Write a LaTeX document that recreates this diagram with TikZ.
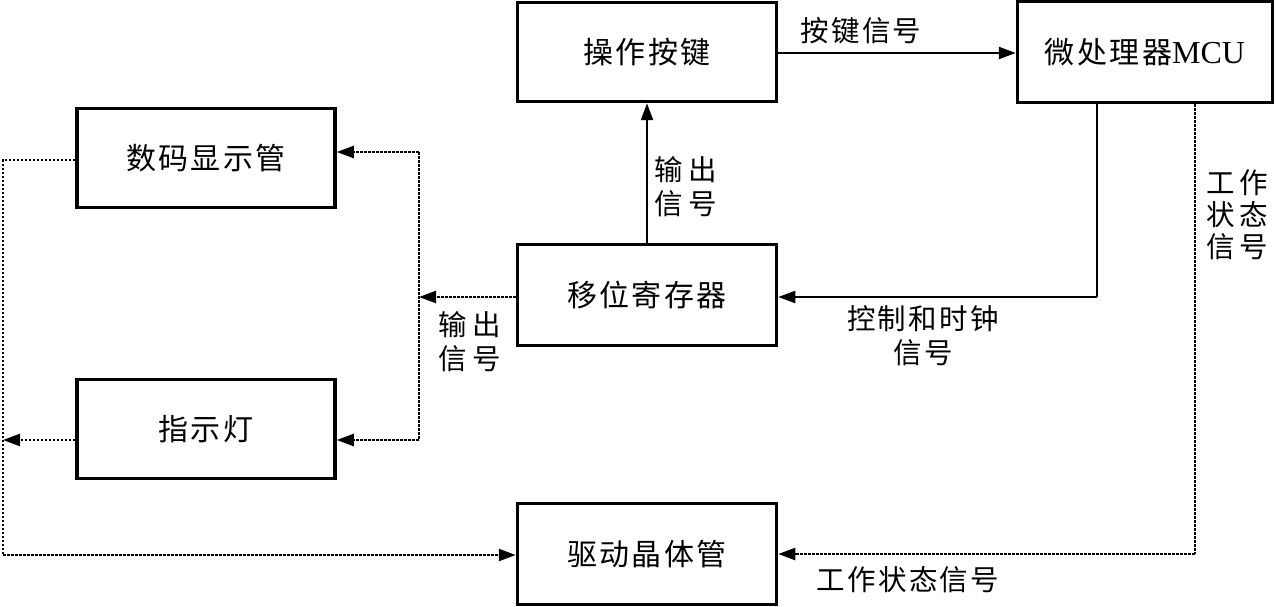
\documentclass[tikz,border=0pt]{standalone}
\usepackage{fontspec}
\setmainfont{Liberation Serif}
\newfontfamily\cjk[LetterSpace=8]{Noto Sans CJK SC}
\usetikzlibrary{arrows.meta}
\tikzset{
  blk/.style={draw, line width=3.5pt, minimum width=258pt, minimum height=99pt, inner sep=0pt,
    font=\cjk\fontsize{30}{36}\selectfont},
  lbl/.style={font=\cjk\fontsize{28.5}{34}\selectfont, align=center, inner sep=0pt},
  sarr/.style={line width=2.4pt, -{Triangle[length=17pt,width=12pt]}},
  sline/.style={line width=2pt},
  darr/.style={line width=2.4pt, dash pattern=on 2.6pt off 1.4pt, -{Triangle[length=17pt,width=12pt]}},
  dline/.style={line width=2.4pt, dash pattern=on 2.6pt off 1.4pt},
}
\begin{document}
\begin{tikzpicture}[x=1pt,y=-1pt]
\useasboundingbox (0,0) rectangle (1276,607);
\node[blk, minimum width=259pt] (key) at (647,52) {操作按键};
\node[blk, minimum width=255pt, minimum height=101pt] (mcu) at (1145,52) {微处理器{\rmfamily\fontsize{32}{36}\selectfont MCU}};
\node[blk] (disp) at (206,158) {数码显示管};
\node[blk] (led) at (206,429) {指示灯};
\node[blk, minimum width=259pt, minimum height=101pt] (shift) at (647,295) {移位寄存器};
\node[blk, minimum width=259pt, minimum height=101pt] (drv) at (647,554) {驱动晶体管};

% solid connectors
\draw[sarr] (key.east |- 0,53) -- (mcu.west |- 0,53);
\draw[sarr] (shift.north) -- (key.south);
\coordinate (mc1) at (1097,297);
\draw[sline] (mcu.south -| mc1) -- (mc1);
\draw[sarr, line width=2pt] (mc1) -- (shift.east |- mc1);

% dotted connectors
\coordinate (sj) at (419,297);
\coordinate (st) at (419,152);
\coordinate (sb) at (419,440);
\draw[darr] (shift.west |- sj) -- (sj);
\draw[dline] (st) -- (sb);
\draw[darr] (st) -- (disp.east |- st);
\draw[darr] (sb) -- (led.east |- sb);

\coordinate (lt) at (3,160);
\coordinate (lb) at (3,555);
\coordinate (la) at (3,440);
\draw[darr] (led.west |- la) -- (la);
\draw[dline] (disp.west |- lt) -- (lt) -- (lb);
\draw[darr] (lb) -- (drv.west |- lb);

\coordinate (rt) at (1195,104);
\coordinate (rb) at (1195,554);
\draw[dline] (rt) -- (rb);
\draw[darr] (rb) -- (drv.east |- rb);

% labels
\node[lbl] (l1) at (861,31) {按键信号};
\node[lbl] (l2) at (686,187) {输\hspace{6pt}出\\信\hspace{6pt}号};
\node[lbl] (l3) at (923,336) {控制和时钟\\信号};
\node[lbl] (l4) at (470,342) {输\hspace{6pt}出\\信\hspace{6pt}号};
\node[lbl, font=\cjk\fontsize{28.5}{32}\selectfont] (l5) at (1237,215) {工\hspace{4pt}作\\状\hspace{4pt}态\\信\hspace{4pt}号};
\node[lbl] (l6) at (908,580) {工作状态信号};
\end{tikzpicture}
\end{document}
